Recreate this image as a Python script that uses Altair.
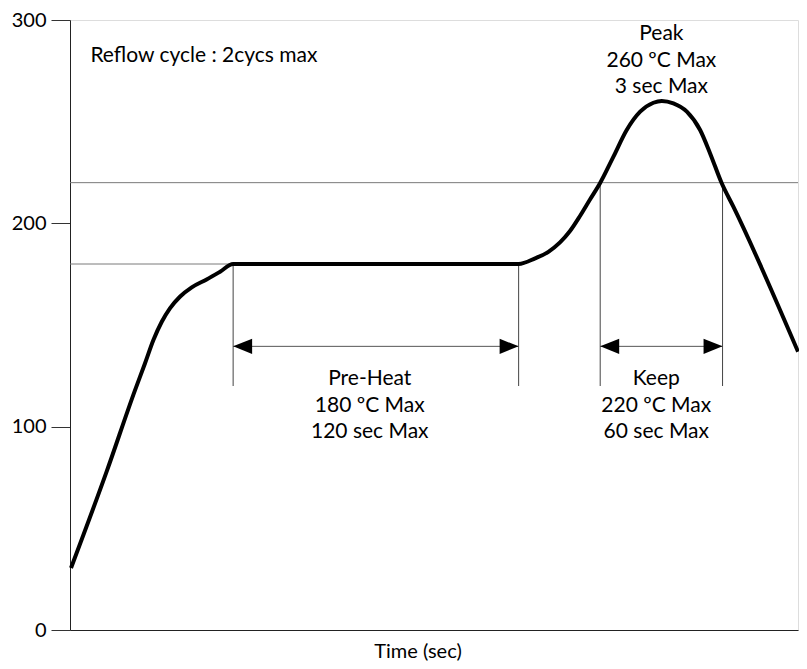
import altair as alt
import pandas as pd

# Reflow profile (time in sec, temperature in degC)
curve_t = [0.5, 18, 31.9, 36.8, 40.9, 45.0, 49.0, 53.9, 59.7, 67.0, 73.6, 80,
           150, 220, 228.1, 234.6, 240.3, 245.2, 250.1, 255.0, 259.9, 266.5,
           273.0, 279.6, 286.1, 290.2, 295.9, 302.5, 309.0, 313.9, 319.6, 325.3, 357]
curve_temp = [30.5, 78, 118, 131.2, 142.6, 151.6, 158.2, 163.9, 168.5, 172.4, 176.2, 180,
              180, 180, 182.8, 186.0, 190.6, 196.2, 203.6, 211.7, 219.7, 232.8,
              245.9, 254.9, 259.3, 260.2, 259.0, 254.9, 245.9, 234.4, 219.7, 208.2, 136.9]

# horizontal guide lines: start, end, level
h_x0 = [0, 0]
h_x1 = [80, 357]
h_y = [180, 220]

# vertical guide lines: position, top, bottom
v_x = [80, 220, 260, 320]
v_top = [180, 180, 220, 220]
v_bot = [120, 120, 120, 120]

# dimension arrows
arr_x0 = [80, 260]
arr_x1 = [220, 320]
arr_y = [139.5, 139.5]

# annotations
ann_text = ["Reflow cycle : 2cycs max", "Peak\n260 ºC Max\n3 sec Max",
            "Pre-Heat\n180 ºC Max\n120 sec Max", "Keep\n220 ºC Max\n60 sec Max"]
ann_x = [10, 290, 147, 287.5]
ann_y = [279.5, 290.2, 120.5, 120.5]
ann_align = ["left", "center", "center", "center"]

FONT = "Lato"
FS = 21

curve_df = pd.DataFrame({"t": curve_t, "temp": curve_temp})
h_df = pd.DataFrame({"x0": h_x0, "x1": h_x1, "y": h_y})
v_df = pd.DataFrame({"x": v_x, "y0": v_top, "y1": v_bot})
arr_df = pd.DataFrame({"x0": arr_x0, "x1": arr_x1, "y": arr_y})
head_df = pd.DataFrame({
    "x": arr_x0 + arr_x1,
    "y": arr_y + arr_y,
    "dir": ["l"] * len(arr_x0) + ["r"] * len(arr_x1),
})
ann_df = pd.DataFrame({"text": ann_text, "x": ann_x, "y": ann_y, "align": ann_align})

xscale = alt.Scale(domain=[0, 357], nice=False, zero=False)
yscale = alt.Scale(domain=[0, 300], nice=False)

xaxis = alt.Axis(title="Time (sec)", labels=False, ticks=False, grid=False,
                 domainColor="#222", titleFont=FONT, titleFontSize=20,
                 titleFontWeight="normal", titleColor="black",
                 titleBaseline="alphabetic", titleY=27, titleX=347.5,
                 titleAlign="center")
yaxis = alt.Axis(values=[0, 100, 200, 300], tickSize=19, tickColor="#333",
                 domainColor="#222", labelPadding=5, labelFont=FONT, labelFontSize=20,
                 labelColor="black", grid=False, title=None, labelFlush=False,
                 labelOverlap=False)

curve = alt.Chart(curve_df).mark_line(color="black", strokeWidth=4,
                                       interpolate="monotone").encode(
    x=alt.X("t:Q", scale=xscale, axis=xaxis),
    y=alt.Y("temp:Q", scale=yscale, axis=yaxis),
)

hlines = alt.Chart(h_df).mark_rule(color="#7a7a7a", strokeWidth=1).encode(
    x=alt.X("x0:Q", scale=xscale), x2="x1:Q", y=alt.Y("y:Q", scale=yscale))

vlines = alt.Chart(v_df).mark_rule(color="#444", strokeWidth=1).encode(
    x=alt.X("x:Q", scale=xscale), y=alt.Y("y0:Q", scale=yscale), y2="y1:Q")

shafts = alt.Chart(arr_df).mark_rule(color="#555", strokeWidth=1).encode(
    x=alt.X("x0:Q", scale=xscale), x2="x1:Q", y=alt.Y("y:Q", scale=yscale))

heads = alt.Chart(head_df).mark_point(filled=True, size=361, color="black",
                                      opacity=1, strokeWidth=0).encode(
    x=alt.X("x:Q", scale=xscale), y=alt.Y("y:Q", scale=yscale),
    shape=alt.Shape("dir:N", scale=alt.Scale(
        domain=["l", "r"],
        range=["M0,0L2,-0.8L2,0.8Z", "M0,0L-2,-0.8L-2,0.8Z"]), legend=None))

texts = []
for al in ["left", "center"]:
    sub = ann_df[ann_df["align"] == al]
    texts.append(alt.Chart(sub).mark_text(font=FONT, fontSize=FS, color="black",
                                          align=al, baseline="alphabetic",
                                          lineBreak="\n", lineHeight=26.7).encode(
        x=alt.X("x:Q", scale=xscale), y=alt.Y("y:Q", scale=yscale), text="text:N"))

chart = alt.layer(hlines, vlines, shafts, heads, curve, *texts).properties(
    width=728, height=610,
    autosize=alt.AutoSizeParams(type="none"),
    padding={"left": 62, "top": 12, "right": 1, "bottom": 31},
).configure_view(stroke="#222", strokeWidth=1).configure(background="white")

chart.save("out.html", embed_options={"renderer": "svg", "actions": False})
